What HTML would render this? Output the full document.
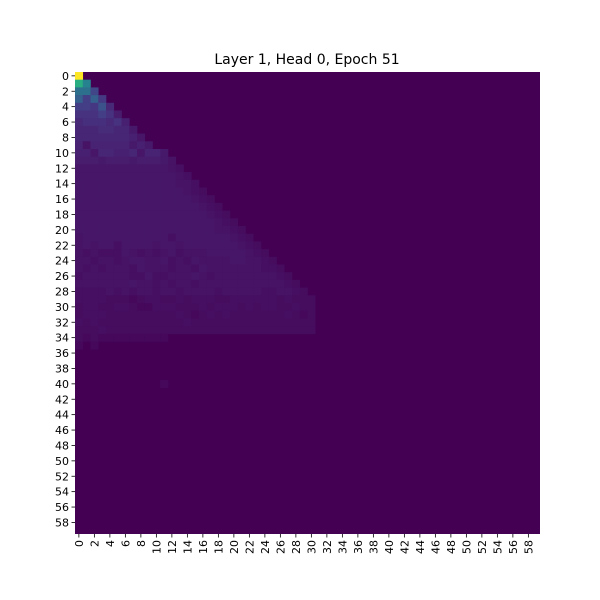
<!DOCTYPE html>
<html><head><meta charset="utf-8"><style>
body{margin:0;background:#fff;}
svg{display:block;font-family:"DejaVu Sans","Liberation Sans",sans-serif;}
</style></head><body>
<svg id="chart" width="600" height="600" viewBox="0 0 600 600">
<text x="307" y="64" font-size="14" text-anchor="middle" fill="#000">Layer 1, Head 0, Epoch 51</text>
<g id="cells"></g>
<g id="xaxis"></g>
<g id="yaxis"></g>
</svg>
<script>
// data: rows 0-11 as numbers, later rows as base36 digits (value = digit/100)
const topRows = [
 [1.0],
 [0.6,0.45],
 [0.38,0.38,0.22],
 [0.3,0.2,0.3,0.18],
 [0.2,0.2,0.17,0.25,0.12],
 [0.15,0.15,0.15,0.2,0.15,0.08],
 [0.12,0.14,0.14,0.14,0.12,0.15,0.09],
 [0.11,0.11,0.11,0.13,0.13,0.11,0.11,0.07],
 [0.11,0.11,0.11,0.11,0.11,0.11,0.11,0.09,0.06],
 [0.1,0.05,0.1,0.1,0.1,0.1,0.1,0.07,0.09,0.07],
 [0.09,0.09,0.06,0.11,0.11,0.09,0.09,0.11,0.06,0.1,0.1,0.07],
 [0.08,0.08,0.08,0.07,0.08,0.08,0.08,0.07,0.08,0.08,0.08,0.07,0.05]
];
const lowerRows = [
 "66666666666654",
 "666666666666654",
 "6666666666666554",
 "66666666666666543",
 "666666666666666543",
 "6666666666666666543",
 "66666666666666666543",
 "666666666666666666543",
 "6666666666666666665543",
 "56666666666646666666543",
 "565664666656656666666543",
 "5454446545456455566666543",
 "55455456655645465555665543",
 "545455546555455465555555443",
 "4555555446445556545555555543",
 "55555556554545545555555555543",
 "444454545545545555455555445543",
 "4444333234433434443344444434333",
 "3443344322444333434443434433433",
 "3444333333333432343433333334323",
 "4343333333333343333333333333333",
 "3334333333333333333333333333333",
 "323222222222",
 "2020",
 "", "", "", "",
 "00000000000200"
];
const nRows = 60, nCols = 60;
const xTickLabels = [], yTickLabels = [];
for (let i = 0; i < 60; i += 2) { xTickLabels.push(String(i)); yTickLabels.push(String(i)); }

const X0 = 75, X1 = 540, Y0 = 72, Y1 = 534;
const cw = (X1 - X0) / nCols, ch = (Y1 - Y0) / nRows;
function xPos(c){ return X0 + c * cw; }
function yPos(r){ return Y0 + r * ch; }
const vir = [[0,"#440154"],[0.05,"#471365"],[0.1,"#482374"],[0.15,"#46327e"],[0.2,"#433e85"],[0.25,"#3b528b"],[0.3,"#355f8d"],[0.35,"#2f6c8e"],[0.4,"#2c728e"],[0.45,"#26828e"],[0.5,"#21918c"],[0.55,"#1fa088"],[0.6,"#28ae80"],[0.65,"#3fbc73"],[0.7,"#5ec962"],[0.8,"#addc30"],[0.9,"#d8e219"],[1,"#fde725"]];
function hx(h){ return [1,3,5].map(i=>parseInt(h.substr(i,2),16)); }
function color(v){
  v = Math.max(0, Math.min(1, v));
  for (let i = 1; i < vir.length; i++) {
    if (v <= vir[i][0]) {
      const t = (v - vir[i-1][0]) / (vir[i][0] - vir[i-1][0]);
      const a = hx(vir[i-1][1]), b = hx(vir[i][1]);
      return "rgb(" + a.map((x,k)=>Math.round(x + (b[k]-x)*t)).join(",") + ")";
    }
  }
  return vir[vir.length-1][1];
}
function value(r, c){
  if (r < topRows.length) return c < topRows[r].length ? topRows[r][c] : 0;
  const s = lowerRows[r - topRows.length];
  if (!s || c >= s.length) return 0;
  return parseInt(s[c], 36) / 100;
}
const NS = "http://www.w3.org/2000/svg";
const cells = document.getElementById("cells");
const bg = document.createElementNS(NS, "rect");


bg.setAttribute("x", X0); bg.setAttribute("y", Y0);
bg.setAttribute("width", X1 - X0); bg.setAttribute("height", Y1 - Y0);
bg.setAttribute("fill", color(0));
cells.appendChild(bg);
for (let r = 0; r < nRows; r++) for (let c = 0; c < nCols; c++) {
  const v = value(r, c);
  if (v <= 0) continue;
  const e = document.createElementNS(NS, "rect");
  
  
  e.setAttribute("x", xPos(c)); e.setAttribute("y", yPos(r));
  e.setAttribute("width", cw + 0.3); e.setAttribute("height", ch + 0.3);
  e.setAttribute("fill", color(v));
  cells.appendChild(e);
}
const xa = document.getElementById("xaxis"), ya = document.getElementById("yaxis");
xTickLabels.forEach(l => {
  const c = +l, x = xPos(c + 0.5);
  const t = document.createElementNS(NS, "line");
  
  
  t.setAttribute("x1", x); t.setAttribute("x2", x); t.setAttribute("y1", Y1); t.setAttribute("y2", Y1 + 3.5);
  t.setAttribute("stroke", "#000"); t.setAttribute("stroke-width", "0.8");
  xa.appendChild(t);
  const tx = document.createElementNS(NS, "text");
  
  
  tx.setAttribute("transform", "translate(" + (x + 4) + "," + (Y1 + 6) + ") rotate(-90)");
  tx.setAttribute("text-anchor", "end"); tx.setAttribute("font-size", "11");
  tx.textContent = l; xa.appendChild(tx);
});
yTickLabels.forEach(l => {
  const r = +l, y = yPos(r + 0.5);
  const t = document.createElementNS(NS, "line");
  
  
  t.setAttribute("x1", X0 - 3.5); t.setAttribute("x2", X0); t.setAttribute("y1", y); t.setAttribute("y2", y);
  t.setAttribute("stroke", "#000"); t.setAttribute("stroke-width", "0.8");
  ya.appendChild(t);
  const tx = document.createElementNS(NS, "text");
  
  
  tx.setAttribute("x", X0 - 6); tx.setAttribute("y", y + 4);
  tx.setAttribute("text-anchor", "end"); tx.setAttribute("font-size", "11");
  tx.textContent = l; ya.appendChild(tx);
});
</script>
</body></html>
